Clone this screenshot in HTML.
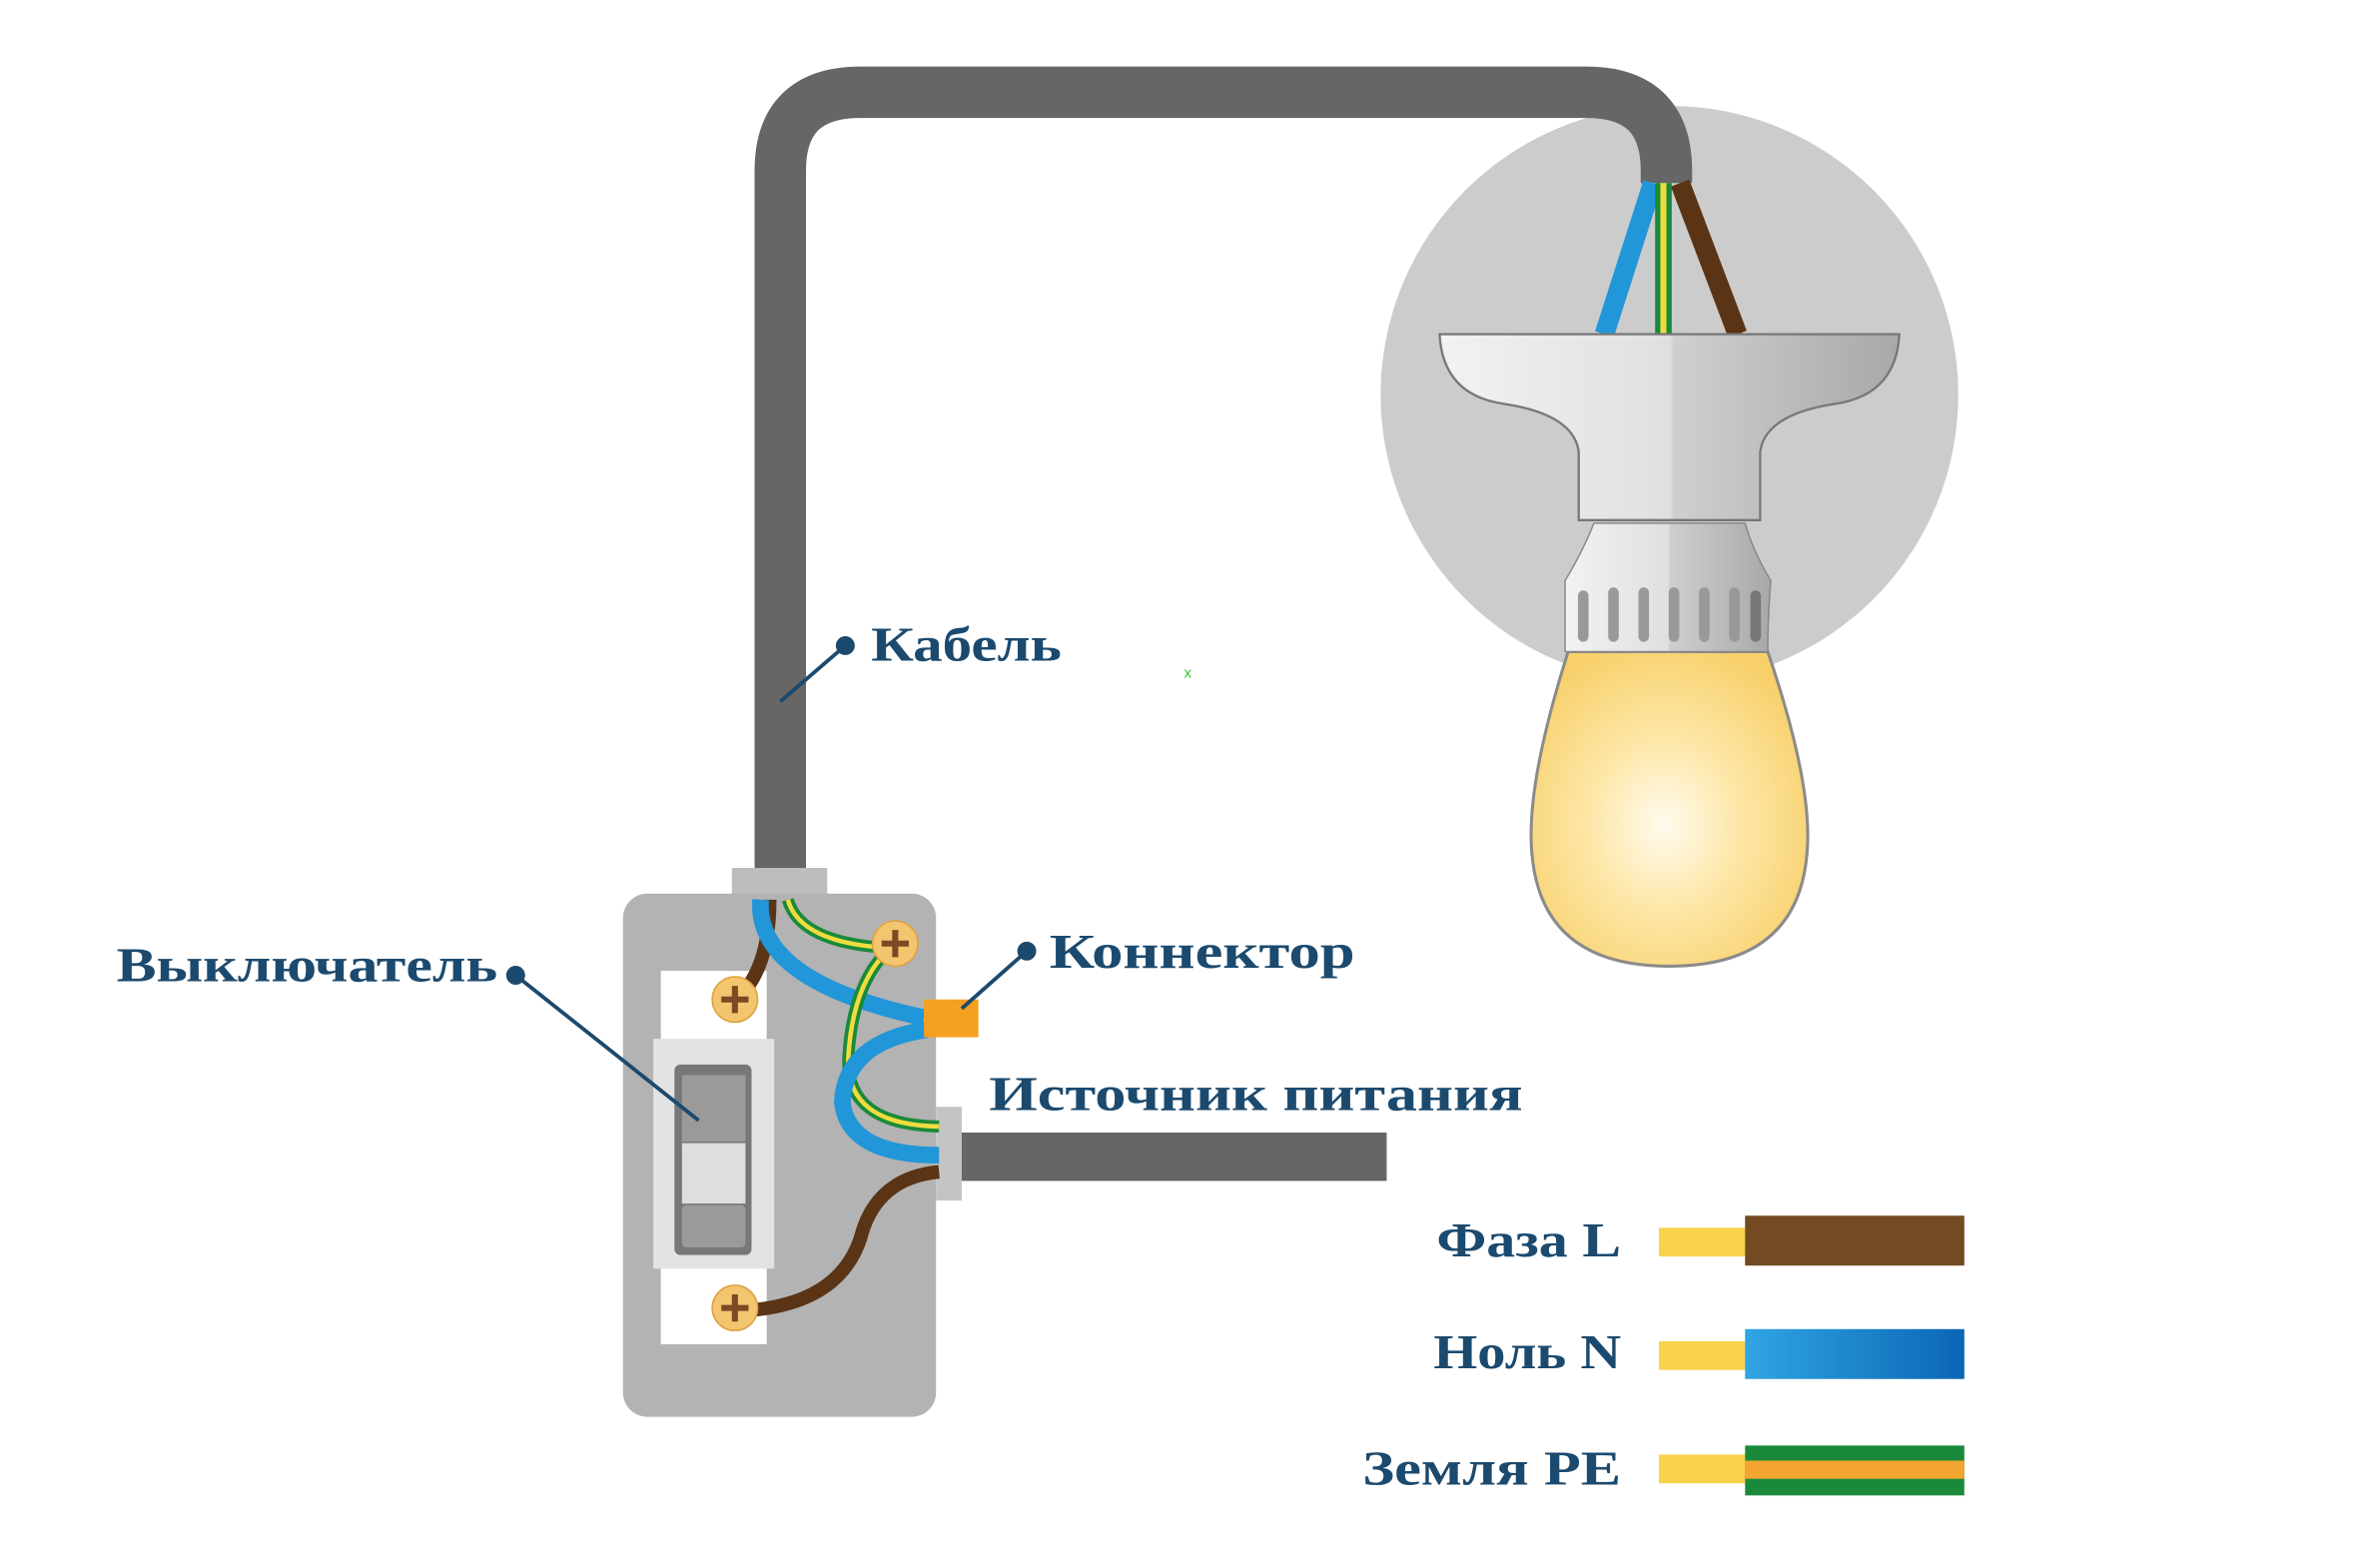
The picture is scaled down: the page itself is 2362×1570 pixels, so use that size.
<!DOCTYPE html>
<html><head><meta charset="utf-8"><style>html,body{margin:0;padding:0;background:#fff}svg{display:block}</style></head>
<body>
<svg width="2362" height="1570" viewBox="0 0 1560 1037" preserveAspectRatio="none" xmlns="http://www.w3.org/2000/svg">
<defs>
<radialGradient id="bulb" cx="0.48" cy="0.55" r="0.6"><stop offset="0" stop-color="#fffbee"/><stop offset="0.45" stop-color="#fde7a8"/><stop offset="1" stop-color="#f8d06a"/></radialGradient>
<linearGradient id="sock" x1="0" x2="1"><stop offset="0" stop-color="#f2f2f2"/><stop offset="0.5" stop-color="#e0e0e0"/><stop offset="0.51" stop-color="#cfcfcf"/><stop offset="1" stop-color="#a8a8a8"/></linearGradient>
<linearGradient id="blue" x1="0" x2="1"><stop offset="0" stop-color="#30a5e3"/><stop offset="1" stop-color="#0b66b5"/></linearGradient>
</defs>
<circle cx="1104" cy="261" r="191" fill="#cccccc"/>
<path d="M516,583 V113 Q516,61 569,61 H1049 Q1102,61 1102,113 V121" fill="none" stroke="#666" stroke-width="34"/>
<line x1="1093" y1="121" x2="1061" y2="221" stroke="#2196d8" stroke-width="13"/>
<line x1="1111" y1="121" x2="1149" y2="221" stroke="#5a3415" stroke-width="13"/>
<line x1="1100" y1="121" x2="1100" y2="221" stroke="#1a8a3a" stroke-width="11"/>
<line x1="1100" y1="121" x2="1100" y2="221" stroke="#f0dc40" stroke-width="4"/>
<path d="M952,221 H1256 Q1254,261 1214,267 Q1167,274 1164,299 V344 H1044 V299 Q1041,274 994,267 Q954,261 952,221 Z" fill="url(#sock)" stroke="#777" stroke-width="1.5"/>
<path d="M1037,431 Q1009,519 1013,564 Q1019,639 1104,639 Q1189,639 1195,564 Q1199,519 1169,431 Z" fill="url(#bulb)" stroke="#8a8a8a" stroke-width="2"/>
<path d="M1054,346 H1154 Q1159,364 1171,384 Q1169,409 1169,431 H1035 Q1035,409 1035,384 Q1047,364 1054,346 Z" fill="url(#sock)" stroke="#888" stroke-width="1"/>
<g stroke="#999" stroke-width="7" stroke-linecap="round">
<line x1="1047" y1="394" x2="1047" y2="421"/><line x1="1067" y1="392" x2="1067" y2="421"/><line x1="1087" y1="392" x2="1087" y2="421"/><line x1="1107" y1="392" x2="1107" y2="421"/><line x1="1127" y1="392" x2="1127" y2="421"/><line x1="1147" y1="392" x2="1147" y2="421"/><line x1="1161" y1="394" x2="1161" y2="421" stroke="#777"/>
</g>
<rect x="484" y="574" width="63" height="27" fill="#bdbdbd"/>
<rect x="412" y="591" width="207" height="346" rx="16" fill="#b3b3b3"/>
<rect x="619" y="732" width="17" height="62" fill="#c4c4c4"/>
<rect x="636" y="749" width="281" height="32" fill="#666"/>
<rect x="437" y="642" width="70" height="247" fill="#fff"/>
<rect x="432" y="687" width="80" height="152" fill="#e3e3e3"/>
<rect x="446" y="704" width="51" height="126" rx="4" fill="#777"/>
<rect x="451" y="711" width="42" height="44" fill="#9a9a9a"/>
<rect x="451" y="756" width="42" height="40" fill="#dedede"/>
<rect x="451" y="797" width="42" height="28" rx="3" fill="#9a9a9a"/>
<path d="M509,595 Q509,639 489,659" fill="none" stroke="#5a3415" stroke-width="9"/>
<path d="M503,595 Q499,649 611,673" fill="none" stroke="#2196d8" stroke-width="11"/>
<path d="M521,595 Q529,624 589,627 Q564,649 561,699 Q559,744 621,745" fill="none" stroke="#1a8a3a" stroke-width="8"/>
<path d="M521,595 Q529,624 589,627 Q564,649 561,699 Q559,744 621,745" fill="none" stroke="#f0dc40" stroke-width="3"/>
<path d="M613,681 Q559,689 557,729 Q561,764 621,764" fill="none" stroke="#2196d8" stroke-width="11"/>
<path d="M621,775 Q579,779 569,819 Q554,864 489,867" fill="none" stroke="#5a3415" stroke-width="9"/>
<rect x="611" y="661" width="36" height="25" fill="#f5a021"/>
<g>
<circle cx="486" cy="661" r="15" fill="#f2c56e" stroke="#e0a040"/><path d="M486,652 V670 M477,661 H495" stroke="#7a4a25" stroke-width="4"/>
<circle cx="486" cy="865" r="15" fill="#f2c56e" stroke="#e0a040"/><path d="M486,856 V874 M477,865 H495" stroke="#7a4a25" stroke-width="4"/>
<circle cx="592" cy="624" r="15" fill="#f2c56e" stroke="#e0a040"/><path d="M592,615 V633 M583,624 H601" stroke="#7a4a25" stroke-width="4"/>
</g>
<g stroke="#1c4a6e" stroke-width="2.5" fill="#1c4a6e">
<line x1="559" y1="427" x2="516" y2="464"/><circle cx="559" cy="427" r="5"/>
<line x1="341" y1="645" x2="462" y2="741"/><circle cx="341" cy="645" r="5"/>
<line x1="679" y1="629" x2="636" y2="667"/><circle cx="679" cy="629" r="5"/>
</g>
<text x="783" y="448" font-size="10" fill="#3c3" font-family="Liberation Sans, sans-serif">x</text>
<g font-family="Liberation Serif, serif" font-weight="bold" font-size="32" fill="#1c4a6e">
<text x="576" y="437" textLength="126" lengthAdjust="spacingAndGlyphs">Кабель</text>
<text x="77" y="649" textLength="252" lengthAdjust="spacingAndGlyphs">Выключатель</text>
<text x="694" y="640" textLength="202" lengthAdjust="spacingAndGlyphs">Коннектор</text>
<text x="654" y="734" textLength="353" lengthAdjust="spacingAndGlyphs">Источник питания</text>
<text x="950" y="831" textLength="122" lengthAdjust="spacingAndGlyphs">Фаза L</text>
<text x="948" y="905" textLength="124" lengthAdjust="spacingAndGlyphs">Ноль N</text>
<text x="901" y="982" textLength="171" lengthAdjust="spacingAndGlyphs">Земля PE</text>
</g>
<rect x="1097" y="812" width="57" height="19" fill="#f8d24a"/><rect x="1154" y="804" width="145" height="33" fill="#744a22"/>
<rect x="1097" y="887" width="57" height="19" fill="#f8d24a"/><rect x="1154" y="879" width="145" height="33" fill="url(#blue)"/>
<rect x="1097" y="962" width="57" height="19" fill="#f8d24a"/><rect x="1154" y="956" width="145" height="33" fill="#1a8a3a"/><rect x="1154" y="966" width="145" height="12" fill="#f3a530"/>
</svg>
</body></html>
